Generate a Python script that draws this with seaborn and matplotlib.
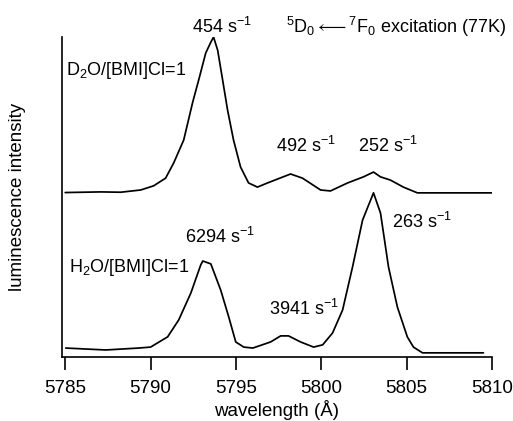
import matplotlib
matplotlib.use("Agg")
import matplotlib.pyplot as plt
import seaborn as sns
import pandas as pd

# D2O/[BMI]Cl=1 spectrum (upper trace)
d2o_wavelength = [5785.0, 5787.08, 5788.25, 5789.42, 5790.18, 5790.88, 5791.35, 5791.94,
                  5792.47, 5792.82, 5793.23, 5793.53, 5793.69, 5793.93, 5794.22, 5794.51,
                  5794.86, 5795.27, 5795.74, 5796.26, 5796.85, 5798.2, 5798.9, 5799.96,
                  5800.54, 5801.54, 5802.47, 5803.06, 5803.47, 5804.05, 5804.81, 5805.63,
                  5806.39, 5810.0]
d2o_intensity = [51.4, 51.6, 51.5, 52.2, 53.5, 55.9, 60.6, 67.8,
                 79.7, 86.6, 95.0, 98.4, 100.0, 95.9, 86.6, 77.2,
                 67.8, 59.4, 54.4, 53.1, 54.4, 57.2, 55.9, 52.2,
                 51.9, 54.4, 56.3, 57.8, 56.3, 55.3, 53.1, 51.3,
                 51.3, 51.3]

# H2O/[BMI]Cl=1 spectrum (lower trace)
h2o_wavelength = [5785.03, 5787.37, 5789.3, 5790.0, 5791.0, 5791.65, 5792.36, 5792.94,
                  5793.06, 5793.53, 5794.11, 5794.58, 5794.99, 5795.46, 5795.99, 5797.03,
                  5797.62, 5798.08, 5798.79, 5799.55, 5800.08, 5800.66, 5801.25, 5801.83,
                  5802.42, 5803.06, 5803.47, 5803.94, 5804.46, 5805.04, 5805.4, 5805.93,
                  5806.98, 5809.5]
h2o_intensity = [2.8, 2.2, 2.8, 3.1, 6.3, 11.6, 20.0, 28.8,
                 30.0, 29.1, 20.9, 12.5, 4.7, 3.1, 2.8, 4.7,
                 6.6, 6.6, 4.7, 3.1, 3.8, 7.5, 14.7, 28.1,
                 42.8, 51.3, 45.0, 28.1, 15.6, 6.3, 3.1, 1.3,
                 1.3, 1.3]

tick_values = [5785, 5790, 5795, 5800, 5805, 5810]

annotations = [
    (5792.41, 101.25, r"454 s$^{\mathrm{-1}}$"),
    (5797.95, 101.25, r"$^{\mathrm{5}}$D$_{\mathrm{0}}$$\longleftarrow$$^{\mathrm{7}}$F$_{\mathrm{0}}$ excitation (77K)"),
    (5785.05, 88.1, r"D$_{\mathrm{2}}$O/[BMI]Cl=1"),
    (5797.32, 64.1, r"492 s$^{\mathrm{-1}}$"),
    (5802.18, 64.1, r"252 s$^{\mathrm{-1}}$"),
    (5804.17, 40.3, r"263 s$^{\mathrm{-1}}$"),
    (5792.00, 35.6, r"6294 s$^{\mathrm{-1}}$"),
    (5785.2, 26.6, r"H$_{\mathrm{2}}$O/[BMI]Cl=1"),
    (5796.91, 13.1, r"3941 s$^{\mathrm{-1}}$"),
]

sns.set_style("ticks")
plt.rcParams["font.family"] = ["Liberation Sans", "DejaVu Sans"]
plt.rcParams["mathtext.fontset"] = "custom"
plt.rcParams["mathtext.rm"] = "Liberation Sans"
plt.rcParams["mathtext.it"] = "Liberation Sans"
plt.rcParams["mathtext.default"] = "rm"
plt.rcParams["mathtext.fallback"] = "stixsans"

df_d2o = pd.DataFrame({"wavelength": d2o_wavelength, "intensity": d2o_intensity})
df_h2o = pd.DataFrame({"wavelength": h2o_wavelength, "intensity": h2o_intensity})

fig = plt.figure(figsize=(5.13, 4.21), dpi=100)
ax = fig.add_axes([0.1205, 0.152, 0.8385, 0.760])

sns.lineplot(data=df_d2o, x="wavelength", y="intensity", ax=ax, color="black",
             linewidth=1.25, sort=False)
sns.lineplot(data=df_h2o, x="wavelength", y="intensity", ax=ax, color="black",
             linewidth=1.25, sort=False)

ax.set_xlim(5784.8, 5810.0)
ax.set_ylim(0, 100)
ax.set_xticks(tick_values)
ax.set_yticks([])
ax.tick_params(axis="x", direction="out", length=9.5, width=1.2, labelsize=13.5,
               pad=7, color="black", labelcolor="black")
for side in ["top", "right"]:
    ax.spines[side].set_visible(False)
for side in ["left", "bottom"]:
    ax.spines[side].set_color("black")
    ax.spines[side].set_linewidth(1.2)

ax.set_xlabel("wavelength (Å)", fontsize=13.5, labelpad=2.5, color="black")
ax.set_ylabel("luminescence intensity", fontsize=13.5, labelpad=26, color="black")

for x, y, s in annotations:
    ax.text(x, y, s, fontsize=13, ha="left", va="baseline", color="black", clip_on=False)

fig.savefig("out.png", dpi=100)
